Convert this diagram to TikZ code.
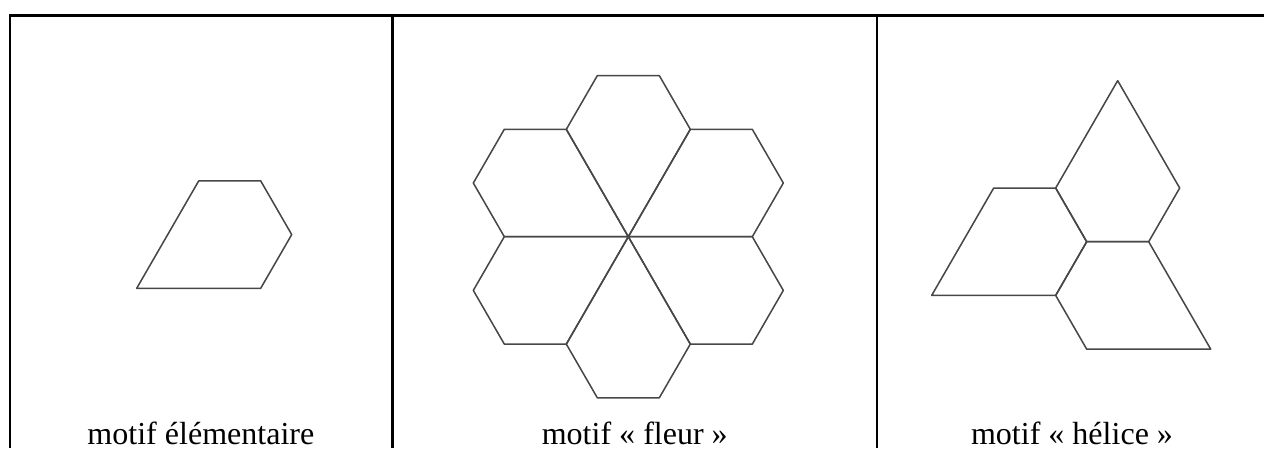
\documentclass[tikz,border=0pt]{standalone}
\usepackage{fontspec}
\setmainfont{Liberation Serif}

\begin{document}
\begin{tikzpicture}[
    cadre/.style={black, line width=0.95pt, line join=miter},
    motif/.style={black!72, line width=0.7pt, line join=round},
    legende/.style={anchor=base, inner sep=0pt, font=\fontsize{14.7}{17}\selectfont}]
  \useasboundingbox (0,0) rectangle (20.387,7.226);
  % tableau
  \draw[cadre] (0.156,0) -- (0.156,6.976) -- (20.387,6.976);
  \draw[cadre] (6.331,0) -- (6.331,6.976);
  \draw[cadre] (14.145,0) -- (14.145,6.976);
  % motif elementaire
  \draw[motif, shift={(2.205,2.576)}]
    (0,0) -- (2,0) -- (2.5,0.866) -- (2,1.732) -- (1,1.732) -- cycle;
  % fleur
  \foreach \a in {0,60,...,300}
    \draw[motif, shift={(10.134,3.408)}, rotate=\a]
      (0,0) -- (2,0) -- (2.5,0.866) -- (2,1.732) -- (1,1.732) -- cycle;
  % helice
  \foreach \a in {0,120,240}
    \draw[motif, shift={(17.527,3.327)}, rotate=\a]
      (0,0) -- (1,0) -- (1.5,0.866) -- (0.5,2.598) -- (-0.5,0.866) -- cycle;
  \node[legende] (elem) at (3.24,0.06) {motif élémentaire};
  \node[legende] (fleur) at (10.238,0.06) {motif « fleur »};
  \node[legende] (helice) at (17.29,0.06) {motif « hélice »};
\end{tikzpicture}
\end{document}
